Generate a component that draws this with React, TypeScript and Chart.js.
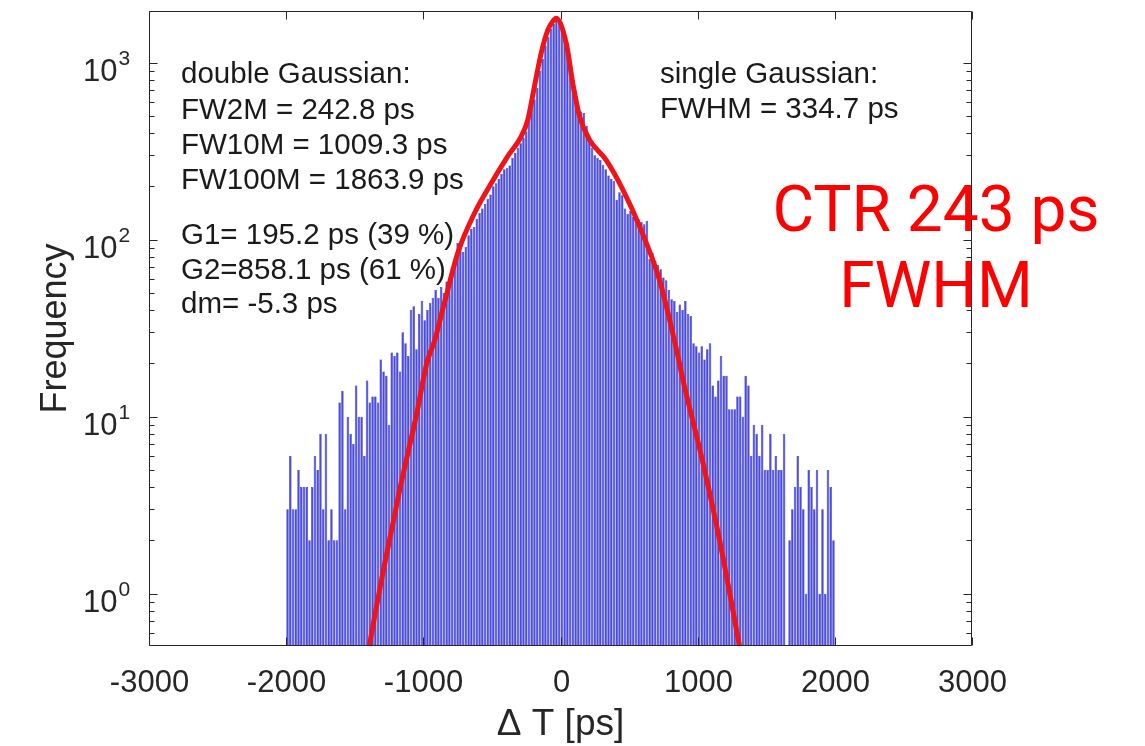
import React, { useEffect, useRef } from "react";
import { Chart, registerables } from "chart.js";

Chart.register(...registerables);

// ---------- data ----------
const BIN_START = -2000; // ps, left edge of first histogram bin
const BIN_WIDTH = 20; // ps

// histogram counts, 200 bins from -2000 to 2000 ps (null = empty bin)
const COUNTS_A: (number | null)[] = [
  3, 6, 3, 3, 5, 4, 4, 4, 2, 4, 6, 5, 8, 3, 8, 2, 3, 2, 2, 12,
  14, 3, 10, 8, 7, 15, 10, 10, 6, 16, 12, 13, 13, 12, 21, 18, 17, 9, 23, 22,
  23, 18, 30, 26, 22, 40, 42, 24, 38, 45,
];
const COUNTS_B: (number | null)[] = [
  35, 40, 44, 47, 52, 47, 54, 50, 58, 61, 68, 75, 96, 88, 85, 91, 106, 115, 118, 131,
  142, 150, 159, 170, 180, 200, 208, 220, 235, 250, 255, 262, 290, 310, 330, 350, 377, 410, 500, 570,
  620, 720, 900, 1050, 1250, 1400, 1550, 1650, 1760, 1700,
];
const COUNTS_C: (number | null)[] = [
  1600, 1400, 1100, 900, 740, 660, 560, 530, 520, 440, 380, 330, 300, 290, 282, 265, 250, 230, 220, 215,
  168, 185, 178, 150, 140, 145, 134, 130, 130, 126, 122, 128, 78, 84, 76, 72, 68, 61, 59, 52,
  46, 45, 39, 43, 40, 45, 38, 37, 26, 25,
];
const COUNTS_D: (number | null)[] = [
  23, 25, 21, 24, 26, 15, 13, 16, 22, 17, 17, 11, 11, 11, 13, 13, 10, 17, 15, 6,
  9, 8, 6, 9, 5, 5, 8, 5, 6, 5, 5, 8, null, 2, 3, 4, 6, 4, 3, 1,
  5, 4, 3, 5, 1, 3, 1, 5, 4, 2,
];
const COUNTS = [...COUNTS_A, ...COUNTS_B, ...COUNTS_C, ...COUNTS_D];

// double Gaussian fit curve
const FIT_X = [
  -1394, -1341, -1290, -1168, -1047, -975, -917, -846, -749, -627, -505, -384, -287, -238,
  -190, -141, -92, -56, -32, 42, 90, 139, 212, 333, 455, 576, 722, 843, 892, 1038, 1160, 1305,
];
const FIT_Y = [
  0.506, 0.85, 1.37, 4.0, 10.5, 20, 27, 44, 84, 141, 208, 296, 382, 477,
  734, 1130, 1530, 1715, 1780, 1285, 760, 497, 366, 281, 191, 119, 59, 24.4, 16.2, 5.5, 2.0, 0.506,
];

const X_MIN = -3000;
const X_MAX = 3000;
const X_TICKS = [-3000, -2000, -1000, 0, 1000, 2000, 3000];
const Y_MIN = 0.506;
const Y_MAX = 1957;
const Y_DECADES = [0, 1, 2, 3];

const LEFT_NOTES = ["double Gaussian:", "FW2M = 242.8 ps", "FW10M = 1009.3 ps", "FW100M = 1863.9 ps"];
const LEFT_NOTES_2 = ["G1= 195.2 ps (39 %)", "G2=858.1 ps (61 %)", "dm= -5.3 ps"];
const RIGHT_NOTES = ["single Gaussian:", "FWHM = 334.7 ps"];
const CTR_NOTES = ["CTR 243 ps", "FWHM"];
const X_TITLE = "\u0394 T [ps]";
const Y_TITLE = "Frequency";

const AXIS_COLOR = "#262626";
const FONT = "'Liberation Sans', Arial, Helvetica, sans-serif";

const decor = {
  id: "decor",
  afterDraw(chart: any) {
    const ctx: CanvasRenderingContext2D = chart.ctx;
    const { left, right, top, bottom } = chart.chartArea;
    const xs = chart.scales.x;
    const ys = chart.scales.y;
    ctx.save();
    ctx.strokeStyle = AXIS_COLOR;
    ctx.lineWidth = 1;
    const L = Math.round(left) + 0.5;
    const R = Math.round(right) - 0.5;
    const T = Math.round(top) + 0.5;
    const B = Math.round(bottom) - 0.5;
    ctx.beginPath();
    ctx.rect(L, T, R - L, B - T);
    ctx.stroke();

    // x ticks
    ctx.fillStyle = AXIS_COLOR;
    ctx.font = `31px ${FONT}`;
    ctx.textAlign = "center";
    ctx.textBaseline = "alphabetic";
    for (const v of X_TICKS) {
      const px = Math.round(xs.getPixelForValue(v)) + 0.5;
      ctx.beginPath();
      ctx.moveTo(px, B);
      ctx.lineTo(px, B - 8);
      ctx.moveTo(px, T);
      ctx.lineTo(px, T + 8);
      ctx.stroke();
      ctx.fillText(String(v), px, B + 46);
    }

    // y ticks
    for (const d of Y_DECADES) {
      const py = Math.round(ys.getPixelForValue(Math.pow(10, d))) + 0.5;
      ctx.beginPath();
      ctx.moveTo(L, py);
      ctx.lineTo(L + 8, py);
      ctx.moveTo(R, py);
      ctx.lineTo(R - 8, py);
      ctx.stroke();
      ctx.font = `31px ${FONT}`;
      ctx.textAlign = "right";
      ctx.fillText("10", L - 32, py + 17);
      ctx.font = `21px ${FONT}`;
      ctx.textAlign = "left";
      ctx.fillText(String(d), L - 31, py + 1);
    }
    for (let d = -1; d <= 3; d++) {
      for (let m = 2; m <= 9; m++) {
        const v = m * Math.pow(10, d);
        if (v < Y_MIN || v > Y_MAX) continue;
        const py = Math.round(ys.getPixelForValue(v)) + 0.5;
        ctx.beginPath();
        ctx.moveTo(L, py);
        ctx.lineTo(L + 5, py);
        ctx.moveTo(R, py);
        ctx.lineTo(R - 5, py);
        ctx.stroke();
      }
    }

    // axis titles
    ctx.font = `37px ${FONT}`;
    ctx.textAlign = "center";
    ctx.fillText(X_TITLE, (left + right) / 2, 735);
    ctx.save();
    ctx.translate(56, (top + bottom) / 2);
    ctx.rotate(-Math.PI / 2);
    ctx.textBaseline = "middle";
    ctx.font = `36px ${FONT}`;
    ctx.fillText(Y_TITLE, 0, 0);
    ctx.restore();

    // annotations
    ctx.fillStyle = "#1a1a1a";
    ctx.font = `29.5px ${FONT}`;
    ctx.textAlign = "left";
    ctx.textBaseline = "alphabetic";
    const b1 = [83, 119, 154, 189];
    LEFT_NOTES.forEach((s, i) => ctx.fillText(s, 181, b1[i]));
    const b2 = [244, 279, 313];
    LEFT_NOTES_2.forEach((s, i) => ctx.fillText(s, 181, b2[i]));
    const b3 = [83, 118];
    RIGHT_NOTES.forEach((s, i) => ctx.fillText(s, 660, b3[i]));

    ctx.fillStyle = "#ff0000";
    ctx.font = "64px Roboto, 'Noto Sans', sans-serif";
    ctx.textAlign = "center";
    const b4 = [231, 307];
    CTR_NOTES.forEach((s, i) => ctx.fillText(s, 936, b4[i]));
    ctx.restore();
  },
};

export default function App() {
  const ref = useRef<HTMLCanvasElement | null>(null);
  useEffect(() => {
    if (!ref.current) return;
    const bars = COUNTS.map((c, i) => ({ x: BIN_START + BIN_WIDTH * (i + 0.5), y: c }));
    const fit = FIT_X.map((x, i) => ({ x, y: FIT_Y[i] }));
    const chart = new Chart(ref.current, {
      type: "bar",
      data: {
        datasets: [
          {
            type: "line",
            data: fit,
            borderColor: "#f01418",
            borderWidth: 5,
            pointRadius: 0,
            cubicInterpolationMode: "monotone",
            fill: false,
            order: 0,
          } as any,
          {
            type: "bar",
            data: bars,
            backgroundColor: "#4848f0",
            borderColor: "#23238c",
            borderWidth: 0.5,
            borderSkipped: "bottom",
            barPercentage: 0.92,
            categoryPercentage: 1,
            order: 1,
          } as any,
        ],
      },
      options: {
        animation: false,
        responsive: false,
        maintainAspectRatio: false,
        layout: { padding: { left: 149, right: 173, top: 11, bottom: 100 } },
        plugins: { legend: { display: false }, tooltip: { enabled: false } },
        scales: {
          x: { type: "linear", min: X_MIN, max: X_MAX, offset: false, display: false },
          y: { type: "logarithmic", min: Y_MIN, max: Y_MAX, display: false },
        },
      },
      plugins: [decor],
    });
    return () => chart.destroy();
  }, []);
  return (
    <div style={{ position: "fixed", left: 0, top: 0, width: 1145, height: 746, background: "#fff" }}>
      <canvas ref={ref} width={1145} height={746} style={{ display: "block" }} />
    </div>
  );
}
